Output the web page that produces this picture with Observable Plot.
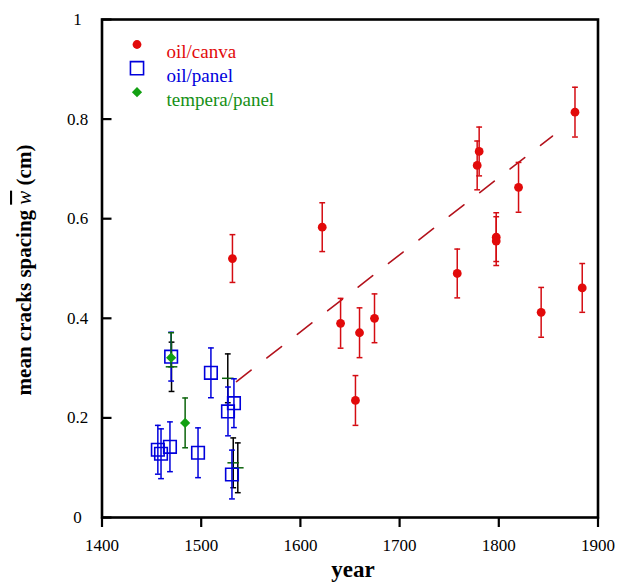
<!DOCTYPE html>
<html>
<head>
<meta charset="utf-8">
<script src="https://cdn.jsdelivr.net/npm/d3@7"></script>
<script src="https://cdn.jsdelivr.net/npm/@observablehq/plot@0.6"></script>
<style>
  body { margin: 0; background: #fff; }
  #chart svg { display: block; }
  #chart svg, #chart svg text { font-family: "Liberation Serif", "Times New Roman", serif !important; }
</style>
</head>
<body>
<div id="chart"></div>
<script>
// ---- data ----
const canvaYear  = [1531.5, 1622.0, 1640.5, 1655.5, 1659.6, 1674.7, 1758.1, 1778.2, 1780.2, 1797.4, 1797.4, 1819.9, 1842.7, 1876.8, 1884.1];
const canvaValue = [0.520, 0.583, 0.390, 0.235, 0.371, 0.400, 0.490, 0.707, 0.735, 0.563, 0.555, 0.663, 0.412, 0.814, 0.461];
const canvaErr   = [0.048, 0.049, 0.050, 0.050, 0.050, 0.049, 0.049, 0.049, 0.049, 0.049, 0.049, 0.050, 0.050, 0.050, 0.049];

const panelYear  = [1456.3, 1459.5, 1468.5, 1469.7, 1496.8, 1509.8, 1527.0, 1531.0, 1533.0];
const panelValue = [0.136, 0.128, 0.142, 0.323, 0.130, 0.2905, 0.213, 0.0863, 0.2295];
const panelErr   = [0.049, 0.050, 0.050, 0.049, 0.050, 0.050, 0.049, 0.049, 0.049];

const temperaYear  = [1469.7, 1483.8];
const temperaValue = [0.321, 0.190];
const temperaLow   = [0.3026, 0.140];
const temperaHigh  = [0.371, 0.240];

// unmarked error crosses (black vertical bars, green horizontal bars)
const extraYear  = [1470.1, 1526.8, 1532.3, 1536.9];
const extraValue = [0.3026, 0.2795, 0.1098, 0.0998];
const extraErr   = [0.0495, 0.049, 0.050, 0.050];

// dashed trend line
const fitYear  = [1535.6, 1854.1];
const fitValue = [0.273, 0.766];

const xTicks = [1400, 1500, 1600, 1700, 1800, 1900];
const xTickLabels = ["1400", "1500", "1600", "1700", "1800", "1900"];
const yTicks = [0, 0.2, 0.4, 0.6, 0.8, 1];
const yTickLabels = ["0", "0.2", "0.4", "0.6", "0.8", "1"];

const legendLabels = ["oil/canva", "oil/panel", "tempera/panel"];

// ---- tables ----
const canva = canvaYear.map((x, i) => ({x, y: canvaValue[i], lo: canvaValue[i] - canvaErr[i], hi: canvaValue[i] + canvaErr[i]}));
const panel = panelYear.map((x, i) => ({x, y: panelValue[i], lo: panelValue[i] - panelErr[i], hi: panelValue[i] + panelErr[i]}));
const tempera = temperaYear.map((x, i) => ({x, y: temperaValue[i], lo: temperaLow[i], hi: temperaHigh[i]}));
const extra = extraYear.map((x, i) => ({x, y: extraValue[i], lo: extraValue[i] - extraErr[i], hi: extraValue[i] + extraErr[i]}));
const fit = fitYear.map((x, i) => ({x, y: fitValue[i]}));

const RED = "#e20a0a", RED_BAR = "#d40c12", FIT = "#b3121c";
const BLUE = "#0000dc", GREEN = "#12a012", DGREEN = "#0b640b";

// horizontal-line symbol for error-bar caps (half-width = r)
const capSymbol = {
  draw(ctx, size) {
    const w = Math.sqrt(size / Math.PI);
    ctx.moveTo(-w, 0);
    ctx.lineTo(w, 0);
  }
};

function errorBars(data, stroke, capR = 2.9, sw = 1.5) {
  return [
    Plot.ruleX(data, {x: "x", y1: "lo", y2: "hi", stroke, strokeWidth: sw}),
    Plot.dot(data, {x: "x", y: "lo", symbol: capSymbol, r: capR, stroke, strokeWidth: sw, fill: "none"}),
    Plot.dot(data, {x: "x", y: "hi", symbol: capSymbol, r: capR, stroke, strokeWidth: sw, fill: "none"})
  ];
}

const FONT = "Liberation Serif";

const plot = Plot.plot({
  width: 620,
  height: 582,
  marginLeft: 101.5,
  marginRight: 22.5,
  marginTop: 19,
  marginBottom: 65,
  style: {fontFamily: FONT, fontSize: "17px", color: "#000", background: "#fff", overflow: "visible"},
  x: {domain: [1400, 1900], label: null},
  y: {domain: [0, 1], label: null},
  marks: [
    // axes
    Plot.axisX(xTicks, {anchor: "bottom", tickSize: 10, tickPadding: 11, strokeWidth: 2.2,
      tickFormat: d => xTickLabels[xTicks.indexOf(d)], fontSize: 17, fontFamily: FONT, label: null}),
    Plot.axisY(yTicks, {anchor: "left", tickSize: 0, tickPadding: 24.5, textAnchor: "middle",
      tickFormat: d => yTickLabels[yTicks.indexOf(d)], fontSize: 17, fontFamily: FONT, label: null}),
    Plot.ruleY(yTicks, {insetRight: 486, strokeWidth: 2.2, stroke: "#000"}),

    // trend line
    Plot.line(fit, {x: "x", y: "y", stroke: FIT, strokeWidth: 1.6, strokeDasharray: "18.5,20"}),

    // unmarked crosses
    ...errorBars(extra, "#000", 2.9, 1.5),
    Plot.dot(extra, {x: "x", y: "y", symbol: capSymbol, r: 5.8, stroke: DGREEN, strokeWidth: 1.5, fill: "none"}),

    // oil/panel
    ...errorBars(panel, BLUE, 2.9, 1.5),
    Plot.dot(panel, {x: "x", y: "y", symbol: "square", r: 7.1, stroke: BLUE, strokeWidth: 1.6, fill: "none"}),

    // tempera/panel
    ...errorBars(tempera, DGREEN, 2.9, 1.5),
    Plot.dot(tempera, {x: "x", y: "y", symbol: "diamond2", r: 4.6, fill: GREEN, stroke: "none"}),

    // oil/canva
    ...errorBars(canva, RED_BAR, 2.9, 1.5),
    Plot.dot(canva, {x: "x", y: "y", r: 4.4, fill: RED, stroke: "none"}),

    // legend
    Plot.dot([legendLabels[0]], {frameAnchor: "top-left", dx: 35, dy: 25, r: 4.4, fill: RED, stroke: "none"}),
    Plot.dot([legendLabels[1]], {frameAnchor: "top-left", dx: 35, dy: 48.7, symbol: "square", r: 7.4, stroke: BLUE, strokeWidth: 1.6, fill: "none"}),
    Plot.dot([legendLabels[2]], {frameAnchor: "top-left", dx: 35, dy: 72.7, symbol: "diamond2", r: 4.6, fill: GREEN, stroke: "none"}),
    Plot.text([legendLabels[0]], {text: d => d, frameAnchor: "top-left", dx: 64.5, dy: 25, textAnchor: "start", fill: RED, fontSize: 19, fontFamily: FONT}),
    Plot.text([legendLabels[1]], {text: d => d, frameAnchor: "top-left", dx: 64.5, dy: 48.7, textAnchor: "start", fill: BLUE, fontSize: 19, fontFamily: FONT}),
    Plot.text([legendLabels[2]], {text: d => d, frameAnchor: "top-left", dx: 64.5, dy: 72.7, textAnchor: "start", fill: "#169016", fontSize: 19, fontFamily: FONT}),

    // x-axis title
    Plot.text(["year"], {text: d => d, frameAnchor: "bottom", dx: 3, dy: 59, lineAnchor: "bottom",
      fontWeight: "bold", fontSize: 23, fontFamily: FONT, fill: "#000"}),

    // frame
    Plot.frame({stroke: "#000", strokeWidth: 2.6})
  ]
});

// y-axis title with italic, overlined w
const svg = d3.select(plot).style("font-family", FONT);
const yt = svg.append("text")
  .attr("transform", "translate(31,270) rotate(-90)")
  .attr("text-anchor", "middle")
  .attr("font-family", FONT)
  .attr("font-size", 21)
  .attr("font-weight", "bold")
  .attr("fill", "#000");
yt.append("tspan").text("mean cracks spacing ");
yt.append("tspan").attr("font-style", "italic").attr("font-weight", "normal")
  .attr("text-decoration", "overline").style("text-decoration", "overline").text("w");
yt.append("tspan").text(" (cm)");

document.getElementById("chart").appendChild(plot);
</script>
</body>
</html>
